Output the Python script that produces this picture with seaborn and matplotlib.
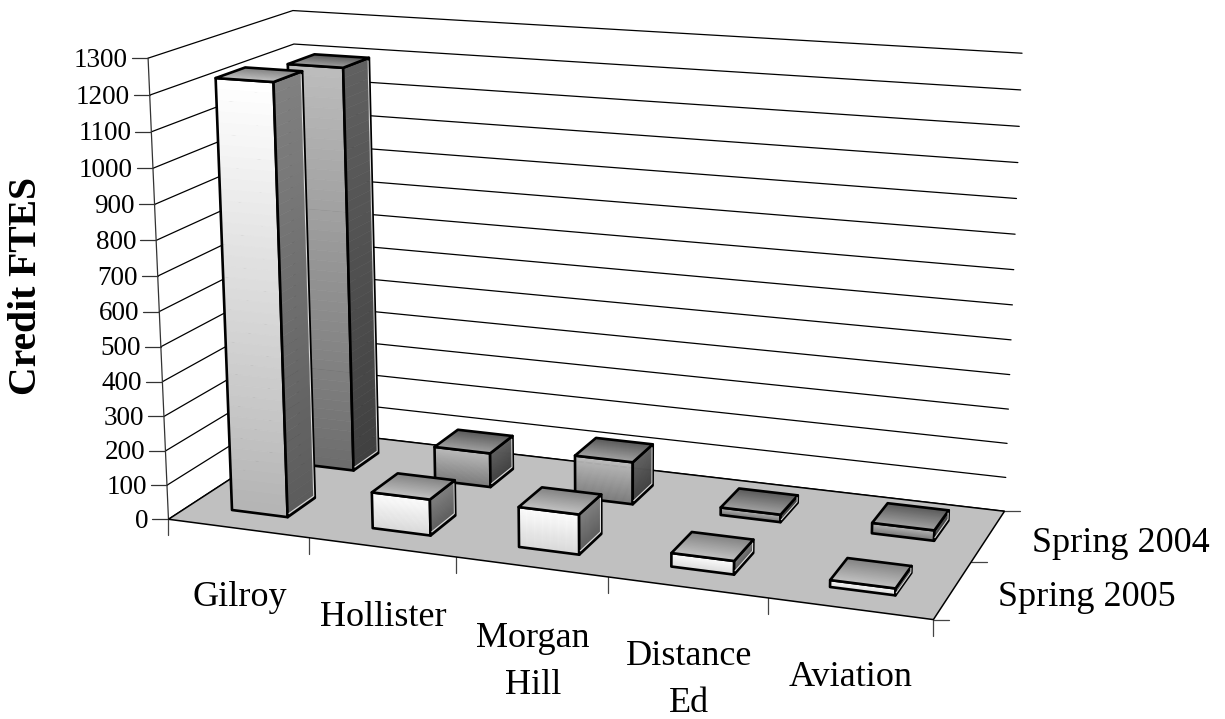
import numpy as np
import seaborn as sns
import matplotlib
matplotlib.use('Agg')
import matplotlib.pyplot as plt
from matplotlib.collections import PolyCollection

# chart values
categories = ['Gilroy', 'Hollister', 'Morgan\nHill', 'Distance\nEd', 'Aviation']
series_names = ['Spring 2005', 'Spring 2004']
spring_2005 = [1232, 104, 114, 38, 19]
spring_2004 = [1198, 102, 125, 22, 30]
y_ticks = [0, 100, 200, 300, 400, 500, 600, 700, 800, 900, 1000, 1100, 1200, 1300]

YMAX = 1300
W, H = 1225, 719

# box corners in (category, series, value) -> picture pixels, camera is fitted from these
box_world = [(0, 0, 0), (5, 0, 0), (5, 2, 0), (0, 2, 0), (0, 0, 1300), (0, 2, 1300), (5, 2, 1300)]
box_pixel = [(168, 519), (934, 619), (1004, 512), (306, 430), (148, 59), (293, 10), (1022, 53)]


def fitCamera(world, pixel):
    rows = []
    for (x, y, z), (u, v) in zip(world, pixel):
        z = z / YMAX
        rows.append([x, y, z, 1, 0, 0, 0, 0, -u * x, -u * y, -u * z, -u])
        rows.append([0, 0, 0, 0, x, y, z, 1, -v * x, -v * y, -v * z, -v])
    return np.linalg.svd(np.array(rows, dtype=float))[2][-1].reshape(3, 4)


CAM = fitCamera(box_world, box_pixel)


def project(x, y, z):
    p = CAM @ np.array([x, y, z / YMAX, 1.0])
    return p[0] / p[2], p[1] / p[2]


def mix(c0, c1, t):
    return tuple(np.array(matplotlib.colors.to_rgb(c0)) * (1 - t) + np.array(matplotlib.colors.to_rgb(c1)) * t)


# four 3D corners, gradient runs from the a-b edge to the d-c edge
def face(ax, a, b, c, d, col0, col1, z, steps=40):
    a, b, c, d = [np.array(q, dtype=float) for q in (a, b, c, d)]
    cols = sns.blend_palette([col0, col1], steps)
    polys = []
    for i in range(steps):
        t0, t1 = i / steps, (i + 1) / steps
        corners = [a + (d - a) * t0, b + (c - b) * t0, b + (c - b) * t1, a + (d - a) * t1]
        polys.append([project(*q) for q in corners])
    ax.add_collection(PolyCollection(polys, facecolors=cols, edgecolors=cols, linewidths=0.4, zorder=z))
    outline = [project(*q) for q in (a, b, c, d)]
    ax.add_patch(plt.Polygon(outline, fill=False, ec='black', lw=1.9, joinstyle='round', zorder=z + 0.5))


def bar(ax, cat, ser, val, z):
    x0, x1 = cat + 0.3, cat + 0.7
    y0, y1 = ser + 0.3, ser + 0.7
    t = val / 1250
    if ser == 0:
        front = ('#ffffff', mix('#dedede', '#b4b4b4', t))
        side = ('#808080', '#5c5c5c')
        top = ('#c4c4c4', '#848484')
    else:
        front = ('#bcbcbc', mix('#7c7c7c', '#6c6c6c', t))
        side = ('#606060', '#404040')
        top = ('#a4a4a4', '#5c5c5c')
    face(ax, (x0, y0, val), (x1, y0, val), (x1, y0, 0), (x0, y0, 0), front[0], front[1], z)
    face(ax, (x1, y0, val), (x1, y1, val), (x1, y1, 0), (x1, y0, 0), side[0], side[1], z + 1)
    face(ax, (x0, y0, val), (x1, y0, val), (x1, y1, val), (x0, y1, val), top[0], top[1], z + 2)
    # pale bevel just inside the lower edge of the side face
    e = min(8, val * 0.2)
    pts = [project(x1, y0 + 0.02, e), project(x1, y1 - 0.015, e), project(x1, y1 - 0.015, val - e)]
    ax.plot(*zip(*pts), color='#d8d8d8', lw=0.8, zorder=z + 2.8)


sns.set_theme(style='white')
plt.rcParams['font.family'] = ['Liberation Serif', 'DejaVu Serif']

fig = plt.figure(figsize=(W / 100, H / 100), dpi=100)
ax = fig.add_axes([0, 0, 1, 1])
ax.set_xlim(0, W)
ax.set_ylim(H, 0)
ax.axis('off')

# walls
for v in y_ticks:
    pts = [project(0, 0, v), project(0, 2, v), project(5, 2, v)]
    ax.plot(*zip(*pts), color='black', lw=0.9, zorder=1)
    u0, v0 = pts[0]
    ax.plot([u0 - 16, u0], [v0, v0], color='#333333', lw=0.9, zorder=1)
    ax.text(u0 - 20, v0 + 2, str(v), ha='right', va='center', fontsize=19.5, color='black')
ax.plot(*zip(project(0, 0, 0), project(0, 0, YMAX)), color='#333333', lw=0.9, zorder=1)

# floor
floor = [project(0, 0, 0), project(5, 0, 0), project(5, 2, 0), project(0, 2, 0)]
ax.add_patch(plt.Polygon(floor, fc='#c0c0c0', ec='black', lw=1.1, zorder=2))

# ticks below the floor
for i in range(6):
    u, v = project(i, 0, 0)
    ax.plot([u, u], [v, v + 16], color='#444444', lw=0.9, zorder=1)
for i in range(3):
    u, v = project(5, i, 0)
    ax.plot([u, u + 16], [v, v], color='#444444', lw=0.9, zorder=1)

# bars, back row first so the front row hides it
z = 3
for ser, vals in [(1, spring_2004), (0, spring_2005)]:
    for cat, val in enumerate(vals):
        bar(ax, cat, ser, val, z)
        z += 3

# category labels
cat_label_pos = [(240, 597), (383, 617), (533, 662), (689, 680), (851, 677)]
for name, (u, v) in zip(categories, cat_label_pos):
    ax.text(u, v, name, ha='center', va='center', fontsize=26, color='black', linespacing=1.57)

ax.text(1032, 544, series_names[1], ha='left', va='center', fontsize=26, color='black')
ax.text(998, 597, series_names[0], ha='left', va='center', fontsize=26, color='black')
ax.text(27, 286, 'Credit FTES', rotation=90, ha='center', va='center', fontsize=28.5, fontweight='bold', color='black')

fig.savefig('out.png', dpi=100, facecolor='white')
